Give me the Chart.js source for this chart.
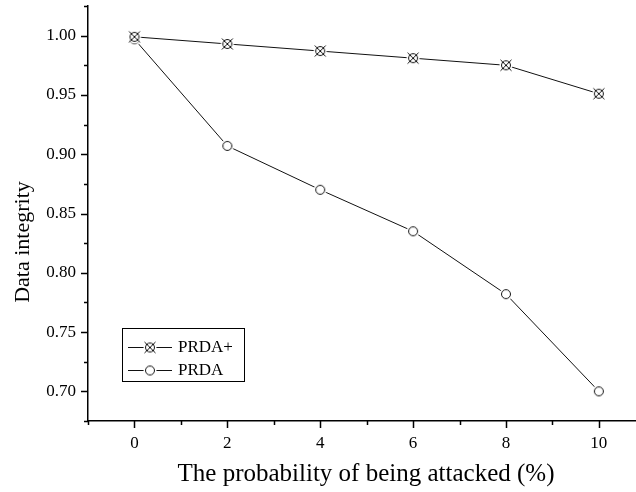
<!DOCTYPE html>
<html>
<head>
<meta charset="utf-8">
<script src="https://cdn.jsdelivr.net/npm/chart.js@4"></script>
<style>
  html, body { margin: 0; padding: 0; background: #fff; }
  #wrap { width: 636px; height: 492px; }
</style>
</head>
<body>
<div id="wrap"><canvas id="chart" width="636" height="492"></canvas></div>
<script>
// data
const attackProb = [0, 2, 4, 6, 8, 10];
const prdaPlus = [0.999, 0.993, 0.987, 0.981, 0.975, 0.951];
const prda = [0.997, 0.907, 0.870, 0.835, 0.782, 0.700];
const seriesNames = ['PRDA+', 'PRDA'];

const xTicks = [0, 2, 4, 6, 8, 10];
const xMinorTicks = [-1, 1, 3, 5, 7, 9];
const yTicks = [0.70, 0.75, 0.80, 0.85, 0.90, 0.95, 1.00];
const yMinorTicks = [0.675, 0.725, 0.775, 0.825, 0.875, 0.925, 0.975, 1.025];

const xTitle = 'The probability of being attacked (%)';
const yTitle = 'Data integrity';

const serif = '"Liberation Serif", "Times New Roman", serif';

// open circle marker, optionally with an X through it; white halo leaves a gap in the line
function makeMarker(crossed) {
    const c = document.createElement('canvas');
    c.width = 20;
    c.height = 20;
    const g = c.getContext('2d');
    g.fillStyle = '#fff';
    g.beginPath();
    g.arc(10, 10, 6.5, 0, Math.PI * 2);
    g.fill();
    g.strokeStyle = '#111';
    g.lineWidth = 1;
    g.beginPath();
    g.arc(10, 10, 4.5, 0, Math.PI * 2);
    g.stroke();
    if (crossed) {
        g.beginPath();
        g.moveTo(4.5, 4.5); g.lineTo(15.5, 15.5);
        g.moveTo(15.5, 4.5); g.lineTo(4.5, 15.5);
        g.stroke();
    }
    return c;
}

const markers = [makeMarker(true), makeMarker(false)];

function toPoints(values) {
    return attackProb.map((p, i) => ({ x: p, y: values[i] }));
}

const axisDecor = {
    id: 'axisDecor',
    afterDraw(chart) {
        const { ctx, chartArea: a, scales: { x, y } } = chart;
        ctx.save();
        ctx.strokeStyle = '#000';
        ctx.lineWidth = 1.5;
        ctx.beginPath();
        xTicks.forEach(v => {
            const px = Math.round(x.getPixelForValue(v)) + 0.5;
            ctx.moveTo(px, a.bottom); ctx.lineTo(px, a.bottom + 7);
        });
        xMinorTicks.forEach(v => {
            const px = Math.round(x.getPixelForValue(v)) + 0.5;
            ctx.moveTo(px, a.bottom); ctx.lineTo(px, a.bottom + 4);
        });
        yTicks.forEach(v => {
            const py = Math.round(y.getPixelForValue(v)) + 0.5;
            ctx.moveTo(a.left, py); ctx.lineTo(a.left - 7, py);
        });
        yMinorTicks.forEach(v => {
            const py = Math.round(y.getPixelForValue(v)) + 0.5;
            ctx.moveTo(a.left, py); ctx.lineTo(a.left - 4, py);
        });
        ctx.stroke();

        // axis titles
        ctx.fillStyle = '#000';
        ctx.textAlign = 'center';
        ctx.textBaseline = 'alphabetic';
        ctx.font = '25px ' + serif;
        ctx.fillText(xTitle, 366, 481);
        ctx.font = '22px ' + serif;
        ctx.save();
        ctx.translate(29, 242);
        ctx.rotate(-Math.PI / 2);
        ctx.fillText(yTitle, 0, 0);
        ctx.restore();

        // legend box
        ctx.lineWidth = 1;
        ctx.strokeRect(122.5, 328.5, 122, 53);
        ctx.font = '17px ' + serif;
        ctx.textAlign = 'left';
        ctx.textBaseline = 'middle';
        chart.data.datasets.forEach((ds, i) => {
            const ry = 347 + i * 23;
            ctx.strokeStyle = '#111';
            ctx.beginPath();
            ctx.moveTo(128, ry + 0.5); ctx.lineTo(172, ry + 0.5);
            ctx.stroke();
            ctx.drawImage(markers[i], 150 - 10, ry + 0.5 - 10);
            ctx.fillText(ds.label, 178, ry + 1);
        });
        ctx.restore();
    }
};

// keep the plot box where the original has it: no extra room for edge labels
function noEdgePadding(s) {
    s.paddingTop = 0;
    s.paddingBottom = 0;
    s.paddingLeft = 0;
    s.paddingRight = 0;
}

new Chart(document.getElementById('chart'), {
    type: 'line',
    data: {
        datasets: [{
            label: seriesNames[0],
            data: toPoints(prdaPlus),
            borderColor: '#111',
            borderWidth: 1,
            pointStyle: markers[0],
            pointRadius: 5,
            tension: 0
        }, {
            label: seriesNames[1],
            data: toPoints(prda),
            borderColor: '#111',
            borderWidth: 1,
            pointStyle: markers[1],
            pointRadius: 5,
            tension: 0
        }]
    },
    options: {
        responsive: false,
        animation: false,
        events: [],
        layout: { autoPadding: false, padding: { top: 6, right: 0, left: 0, bottom: 0 } },
        plugins: {
            legend: { display: false },
            tooltip: { enabled: false }
        },
        scales: {
            x: {
                type: 'linear',
                min: -1,
                max: 10.8,
                afterBuildTicks: s => { s.ticks = xTicks.map(v => ({ value: v })); },
                afterFit: s => { s.height = 71; noEdgePadding(s); },
                grid: { display: true, drawOnChartArea: false, drawTicks: false },
                border: { display: true, color: '#000', width: 1.5 },
                ticks: {
                    color: '#000',
                    padding: 12,
                    font: { family: serif, size: 17 },
                    callback: v => String(v)
                }
            },
            y: {
                min: 0.675,
                max: 1.025,
                afterBuildTicks: s => { s.ticks = yTicks.map(v => ({ value: v })); },
                afterFit: s => { s.width = 88; noEdgePadding(s); },
                grid: { display: true, drawOnChartArea: false, drawTicks: false },
                border: { display: true, color: '#000', width: 1.5 },
                ticks: {
                    color: '#000',
                    padding: 12,
                    font: { family: serif, size: 17 },
                    callback: v => v.toFixed(2)
                }
            }
        }
    },
    plugins: [axisDecor]
});
</script>
</body>
</html>
